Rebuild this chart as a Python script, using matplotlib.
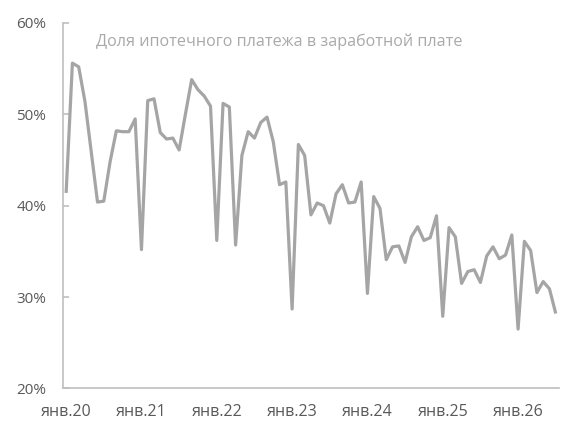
import numpy as np
import matplotlib
matplotlib.use("Agg")
import matplotlib.pyplot as plt
from matplotlib.ticker import FuncFormatter

# Share of mortgage payment in salary, %, monthly from Jan 2020
share = [
    41.4, 55.6, 55.2, 51.4, 45.9, 40.4, 40.5, 44.8, 48.2, 48.1, 48.1, 49.5,
    35.2, 51.5, 51.7, 48.0, 47.3, 47.4, 46.1, 50.0, 53.8, 52.7, 52.0, 50.9,
    36.2, 51.2, 50.8, 35.7, 45.5, 48.1, 47.4, 49.1, 49.7, 47.0, 42.3, 42.6,
    28.7, 46.7, 45.5, 39.0, 40.3, 40.0, 38.1, 41.3, 42.3, 40.3, 40.4, 42.6,
    30.4, 41.0, 39.7, 34.1, 35.5, 35.6, 33.8, 36.6, 37.7, 36.2, 36.5, 38.9,
    27.9, 37.6, 36.6, 31.5, 32.8, 33.0, 31.6, 34.5, 35.5, 34.2, 34.6, 36.8,
    26.5, 36.1, 35.1, 30.5, 31.7, 30.9, 28.2,
]
tick_labels = ["янв.20", "янв.21", "янв.22", "янв.23", "янв.24", "янв.25", "янв.26"]
title = "Доля ипотечного платежа в заработной плате"

LINE_COLOR = "#a5a5a5"
AXIS_COLOR = "#bfbfbf"
LABEL_COLOR = "#595959"
FONT = ["Open Sans", "DejaVu Sans"]

plt.rcParams["font.family"] = FONT

fig = plt.figure(figsize=(5.8, 4.37), dpi=100)
ax = fig.add_axes([0.1086, 0.111, 0.855, 0.8365])

x = np.arange(len(share))
ax.plot(x, np.array(share) / 100, color=LINE_COLOR, linewidth=2.3,
        solid_joinstyle="round", solid_capstyle="butt")

ax.set_xlim(-0.5, len(share) - 0.5)
ax.set_ylim(0.2, 0.6)

ax.set_yticks(np.arange(0.2, 0.61, 0.1))
ax.yaxis.set_major_formatter(FuncFormatter(lambda v, _: f"{v * 100:.0f}%"))
ax.set_xticks(np.arange(len(tick_labels)) * 12)
ax.set_xticklabels(tick_labels)

for side in ["top", "right"]:
    ax.spines[side].set_visible(False)
for side in ["left", "bottom"]:
    ax.spines[side].set_color(AXIS_COLOR)
    ax.spines[side].set_linewidth(1.2)

ax.tick_params(axis="y", direction="in", length=4, width=1.2, color=AXIS_COLOR,
               labelsize=11, labelcolor=LABEL_COLOR, pad=12)
ax.tick_params(axis="x", length=0, labelsize=11.5, labelcolor=LABEL_COLOR, pad=11)

ax.text(0.0665, 0.948, title, transform=ax.transAxes, color="#a9a9a9",
        fontsize=11.6, va="center", ha="left")

fig.savefig("out.png", dpi=100)
